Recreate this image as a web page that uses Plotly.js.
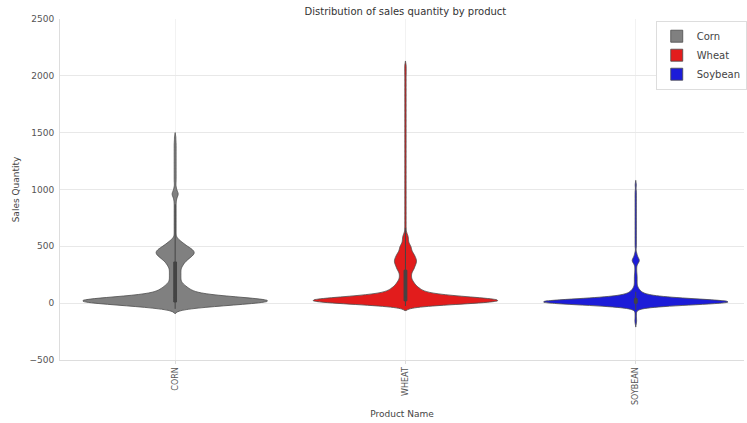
<!DOCTYPE html>
<html>
<head>
<meta charset="utf-8">
<script src="https://cdn.plot.ly/plotly-3.0.1.min.js"></script>
<style>html,body{margin:0;padding:0;background:#fff;overflow:hidden}#chart{width:747px;height:423px}</style>
</head>
<body>
<div id="chart"></div>
<script>
// Categories (x tick labels) and legend names
const categories = ['CORN', 'WHEAT', 'SOYBEAN'];
const seriesNames = ['Corn', 'Wheat', 'Soybean'];

// Sales quantity samples as a frequency table (value level -> number of sales),
// estimated from the violin shapes in the picture.
const cornLevels = [
  -50,-40,-30,-20,-10,0,10,20,30,40,50,60,70,80,90,100,110,120,130,140,150,160,170,180,190,200,
  210,220,230,240,250,260,270,280,290,300,310,320,330,
  340,350,360,370,380,390,400,410,420,430,440,450,460,470,480,490,500,510,520,530,540,550,560,570,
  600,630,660,690,720,750,780,810,840,870,
  900,920,940,950,960,970,980,1000,1020,
  1060,1090,1120,1150,1180,1210,1240,1270,1300,1330,1360,1390,1420,1460
];
const cornCounts = [
  3,8,13,18,24,30,36,40,36,30,24,18,13,9,7,7,6,5,5,4,4,3,3,2,2,2,
  2,2,2,2,2,2,2,2,2,2,2,2,3,
  3,3,3,4,4,5,5,6,6,7,7,7,7,6,6,5,4,4,3,3,2,2,1,1,
  1,1,1,1,1,1,1,1,1,1,
  1,1,1,1,2,1,1,1,1,
  1,1,1,1,1,1,1,1,1,1,1,1,1,1
];
const wheatLevels = [
  -25,-20,-10,0,10,20,30,40,50,60,70,80,90,100,110,120,130,140,150,160,170,180,190,200,
  210,220,230,240,250,260,270,280,290,300,310,320,330,340,350,360,370,380,390,400,
  410,420,430,440,450,460,470,480,490,500,510,520,530,540,550,560,570,580,590,600,620,
  660,705,750,795,840,885,930,975,1020,1065,1110,1155,1200,1245,1290,1335,1380,1425,1470,
  1515,1560,1605,1650,1695,1740,1785,1830,1875,1920,1965,2010,2050,2090
];
const wheatCounts = [
  2,8,17,26,34,40,36,30,24,18,13,9,7,6,6,5,5,4,4,3,3,3,3,2,
  2,2,2,2,2,2,2,2,3,3,3,3,3,4,3,4,4,4,3,4,
  3,3,3,3,2,2,2,2,2,2,2,1,1,1,1,1,1,1,1,1,1,
  1,1,1,1,1,1,1,1,1,1,1,1,1,1,1,1,1,1,1,
  1,1,1,1,1,1,1,1,1,1,1,1,1,1
];
const soybeanLevels = [
  -170,-140,-100,-60,
  -30,-20,-10,0,10,20,30,40,50,60,70,80,90,100,110,120,130,140,
  160,180,200,220,240,260,290,320,
  350,360,370,380,390,400,420,440,
  500,540,580,620,660,700,740,780,820,860,900,940,980,1040
];
const soybeanCounts = [
  1,1,1,1,
  4,12,25,40,52,42,28,16,10,6,4,3,2,2,2,1,1,1,
  1,1,1,1,1,1,1,1,
  1,1,2,2,1,1,1,1,
  1,1,1,1,1,1,1,1,1,1,1,1,1,1
];
const bandwidths = [20, 20, 20];
const fillColors = ['#808080', '#e21c1c', '#1c1cd8'];

function expand(levels, counts) {
  const out = [];
  levels.forEach((v, i) => { for (let k = 0; k < counts[i]; k++) out.push(v); });
  return out;
}
const samples = [
  expand(cornLevels, cornCounts),
  expand(wheatLevels, wheatCounts),
  expand(soybeanLevels, soybeanCounts)
];

const traces = samples.map((vals, i) => ({
  type: 'violin',
  name: seriesNames[i],
  x: vals.map(() => categories[i]),
  y: vals,
  bandwidth: bandwidths[i],
  spanmode: 'soft',
  scalemode: 'width',
  width: 0.8,
  fillcolor: fillColors[i],
  opacity: 1,
  line: {color: '#4a4a4a', width: 0.8},
  points: false,
  box: {visible: true, width: 0.015, fillcolor: '#444444', line: {color: '#444444', width: 1}},
  meanline: {visible: false},
  hoverinfo: 'y'
}));

const layout = {
  width: 747,
  height: 423,
  margin: {l: 60, r: 0, t: 19, b: 63},
  paper_bgcolor: '#ffffff',
  plot_bgcolor: '#ffffff',
  font: {family: 'DejaVu Sans, sans-serif', size: 9, color: '#555555'},
  title: {
    text: 'Distribution of sales quantity by product',
    font: {family: 'DejaVu Sans, sans-serif', size: 10, color: '#333333'},
    x: 0.505, xref: 'paper', xanchor: 'center',
    y: 0.972, yref: 'container', yanchor: 'middle'
  },
  violinmode: 'overlay',
  showlegend: true,
  legend: {
    x: 1.004, xanchor: 'right', y: 0.995, yanchor: 'top',
    bgcolor: '#ffffff', bordercolor: '#dddddd', borderwidth: 1,
    font: {family: 'DejaVu Sans, sans-serif', size: 10, color: '#444444'},
    tracegroupgap: 0
  },
  xaxis: {
    type: 'category',
    categoryorder: 'array',
    categoryarray: categories,
    range: [-0.5, 2.47],
    tickangle: -90,
    showgrid: true,
    gridcolor: '#f2f2f2',
    showline: true,
    linecolor: '#dddddd',
    linewidth: 1,
    ticks: 'outside',
    ticklen: 3,
    tickcolor: '#dddddd',
    zeroline: false,
    tickfont: {size: 8, color: '#555555'},
    title: {text: 'Product Name', font: {size: 9, color: '#444444'}, standoff: 6}
  },
  yaxis: {
    range: [-500, 2500],
    dtick: 500,
    tick0: 0,
    showgrid: true,
    gridcolor: '#e8e8e8',
    showline: true,
    linecolor: '#dddddd',
    linewidth: 1,
    zeroline: false,
    ticks: 'outside',
    ticklen: 3,
    tickcolor: '#ffffff',
    tickfont: {size: 9, color: '#555555'},
    title: {text: 'Sales Quantity', font: {size: 9, color: '#444444'}, standoff: 8}
  }
};

Plotly.newPlot('chart', traces, layout, {staticPlot: true, displayModeBar: false});
</script>
</body>
</html>
